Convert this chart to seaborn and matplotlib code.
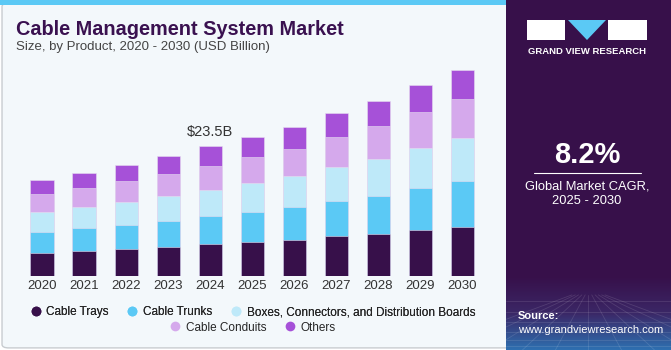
import numpy as np
import pandas as pd
import matplotlib
matplotlib.use("Agg")
import matplotlib.pyplot as plt
from matplotlib.patches import FancyBboxPatch, Rectangle, Polygon
from matplotlib.lines import Line2D
import seaborn as sns

# --- data (USD billion) ---
years = ["2020", "2021", "2022", "2023", "2024", "2025", "2026", "2027", "2028", "2029", "2030"]
cable_trays = [4.2, 4.6, 4.9, 5.3, 5.7, 6.2, 6.6, 7.2, 7.6, 8.4, 8.9]
cable_trunks = [3.8, 4.1, 4.3, 4.7, 5.1, 5.4, 5.9, 6.4, 6.9, 7.5, 8.2]
boxes = [3.6, 3.8, 4.2, 4.5, 4.8, 5.2, 5.6, 6.1, 6.6, 7.2, 7.8]
conduits = [3.2, 3.4, 3.7, 3.9, 4.3, 4.7, 4.9, 5.4, 6.1, 6.6, 7.1]
others = [2.6, 2.8, 2.9, 3.3, 3.6, 3.6, 4.0, 4.3, 4.5, 4.9, 5.3]

segments = ["Cable Trays", "Cable Trunks", "Boxes, Connectors, and Distribution Boards",
            "Cable Conduits", "Others"]
colors = ["#37104A", "#5BC9F5", "#BEE9F9", "#D5A9EC", "#A651D8"]

df = pd.DataFrame({"year": years, segments[0]: cable_trays, segments[1]: cable_trunks,
                   segments[2]: boxes, segments[3]: conduits, segments[4]: others})
cum = df[segments].cumsum(axis=1)

BG = "#F3F8FB"
PURPLE = "#37104A"

sns.set_style("white")
fig = plt.figure(figsize=(6.71, 3.5), dpi=100)
fig.patch.set_facecolor("white")

# main panel background + top strip (behind everything)
fig.patches.append(FancyBboxPatch((0.003, 0.006), 0.76, 0.985, boxstyle="round,pad=0,rounding_size=0.01",
                                  transform=fig.transFigure, facecolor=BG, edgecolor="#C8CCD0", lw=1,
                                  zorder=-10))
fig.patches.append(Rectangle((0, 0.987), 0.755, 0.013, transform=fig.transFigure,
                             facecolor="#5BC9F5", edgecolor="none", zorder=-9))

# right panel
fig.patches.append(Rectangle((0.754, 0), 0.246, 1, transform=fig.transFigure,
                             facecolor=PURPLE, edgecolor="none", zorder=-8))
grad = np.linspace(0, 1, 100).reshape(-1, 1)
gax = fig.add_axes([0.754, 0, 0.246, 0.21], zorder=-5)
gax.imshow(grad, aspect="auto", extent=[0, 1, 0, 1],
           cmap=matplotlib.colors.LinearSegmentedColormap.from_list("g", ["#2E6FB0", "#3B2766", PURPLE]),
           origin="lower")
for k in range(1, 12):
    gax.plot([0.5 + (k - 6) * 0.02, 0.5 + (k - 6) * 0.2], [0.75, 0], color="white", alpha=0.12, lw=0.6)
for yy in [0.05, 0.14, 0.25, 0.38, 0.52, 0.66]:
    gax.plot([0, 1], [yy, yy], color="white", alpha=0.12, lw=0.6)
gax.set_xlim(0, 1)
gax.set_ylim(0, 1)
gax.axis("off")

# --- bars ---
ax = fig.add_axes([0.0313, 0.2114, 0.689, 0.617])
ax.set_facecolor("none")
for i in range(len(segments) - 1, -1, -1):
    sns.barplot(x=df["year"], y=cum[segments[i]], color=colors[i], width=0.55,
                saturation=1, edgecolor="#E6DDF0", linewidth=0.4, ax=ax)
ax.set_ylim(0, 39.05)
ax.set_xlim(-0.5, 10.5)
ax.set_xlabel("")
ax.set_ylabel("")
ax.set_yticks([])
ax.tick_params(axis="x", length=0, pad=3, labelsize=9.5, labelcolor="#333333")
for lab in ax.get_xticklabels():
    lab.set_fontfamily("Liberation Sans")
for s in ax.spines.values():
    s.set_visible(False)

total_2024 = cum[segments[-1]].iloc[4]
ax.text(4, total_2024 + 1.2, f"${total_2024:.1f}B", ha="center", va="bottom",
        fontsize=10.5, color="#333333", family="Liberation Sans")

# --- titles ---
fig.text(0.024, 0.915, "Cable Management System Market", fontsize=14.3, fontweight="bold",
         color="#3A1150", family="Liberation Sans", va="center")
fig.text(0.024, 0.865, "Size, by Product, 2020 - 2030 (USD Billion)", fontsize=9.5,
         color="#444444", family="Liberation Sans", va="center")

# --- legend (two centred rows) ---
handles = [Line2D([], [], marker="o", ls="", markersize=7, markerfacecolor=c, markeredgecolor="none")
           for c in colors]
lkw = dict(frameon=False, handlelength=0.8, handletextpad=0.5, columnspacing=1.6,
           prop={"family": "Liberation Sans", "size": 8.5})
leg1 = fig.legend(handles[:3], segments[:3], ncol=3, loc="center", bbox_to_anchor=(0.377, 0.108), **lkw)
fig.legend(handles[3:], segments[3:], ncol=2, loc="center", bbox_to_anchor=(0.377, 0.064), **lkw)
fig.add_artist(leg1)

# --- right panel text ---
logo_y0, logo_y1 = 1 - 40 / 350, 1 - 20 / 350
fig.patches.append(Rectangle((527 / 671, logo_y0), 38 / 671, logo_y1 - logo_y0,
                             transform=fig.transFigure, facecolor="white", edgecolor="none"))
fig.patches.append(Rectangle((608 / 671, logo_y0), 39 / 671, logo_y1 - logo_y0,
                             transform=fig.transFigure, facecolor="white", edgecolor="none"))
fig.patches.append(Polygon([(568 / 671, logo_y1), (606 / 671, logo_y1), (587 / 671, logo_y0)],
                           closed=True, transform=fig.transFigure, facecolor="#5BC9F5", edgecolor="none"))
fig.text(587 / 671, 1 - 51 / 350, "GRAND VIEW RESEARCH", ha="center", va="center", color="white",
         fontsize=6.8, fontweight="bold", family="Liberation Sans")

fig.text(587 / 671, 1 - 155 / 350, "8.2%", ha="center", va="center", color="white",
         fontsize=21, fontweight="bold", family="Liberation Sans")
fig.lines.append(Line2D([534 / 671, 641 / 671], [1 - 173 / 350, 1 - 173 / 350],
                        transform=fig.transFigure, color="white", lw=0.8))
fig.text(587 / 671, 1 - 186 / 350, "Global Market CAGR,", ha="center", va="center", color="white",
         fontsize=9.3, family="Liberation Sans")
fig.text(587 / 671, 1 - 201 / 350, "2025 - 2030", ha="center", va="center", color="white",
         fontsize=9.3, family="Liberation Sans")
fig.text(518 / 671, 1 - 316 / 350, "Source:", ha="left", va="center", color="white",
         fontsize=8, fontweight="bold", family="Liberation Sans")
fig.text(518 / 671, 1 - 330 / 350, "www.grandviewresearch.com", ha="left", va="center", color="white",
         fontsize=8, family="Liberation Sans")

fig.savefig("out.png", dpi=100, facecolor=fig.get_facecolor())
